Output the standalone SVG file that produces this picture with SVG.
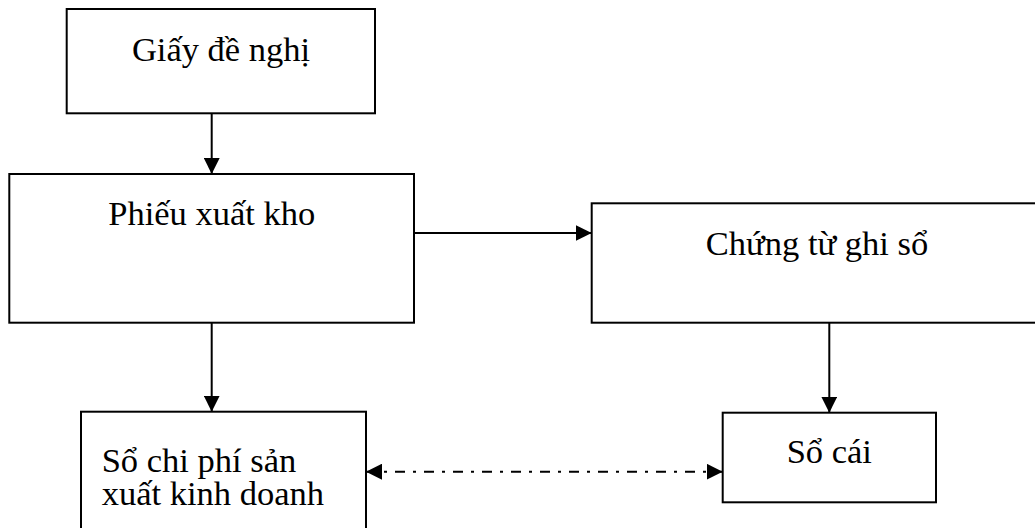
<svg xmlns="http://www.w3.org/2000/svg" width="1035" height="528" viewBox="0 0 1035 528">
  <style>
    .box { fill: #ffffff; stroke: #000000; stroke-width: 2; }
    .label { font-family: "Liberation Serif", "DejaVu Serif", serif; font-size: 34.5px; fill: #000000; }
    .mid { text-anchor: middle; }
    .flow { stroke: #000000; stroke-width: 2; fill: none; }
    .dashdot { stroke-dasharray: 10 8 3 8; }
  </style>
  <defs>
    <marker id="head" viewBox="0 0 16 16" refX="16" refY="8" markerWidth="16" markerHeight="16" markerUnits="userSpaceOnUse" orient="auto-start-reverse">
      <path d="M0,0 L16,8 L0,16 Z" fill="#000000"/>
    </marker>
  </defs>
  <rect width="1035" height="528" fill="#ffffff"/>

  <g id="connectors">
    <line class="flow" x1="211.7" y1="113.3" x2="211.7" y2="174" marker-end="url(#head)"/>
    <line class="flow" x1="414" y1="233" x2="591.7" y2="233" marker-end="url(#head)"/>
    <line class="flow" x1="211.7" y1="322.7" x2="211.7" y2="411.7" marker-end="url(#head)"/>
    <line class="flow" x1="829.3" y1="322.7" x2="829.3" y2="412.7" marker-end="url(#head)"/>
    <line class="flow dashdot" x1="366" y1="471.7" x2="722.7" y2="471.7" marker-start="url(#head)" marker-end="url(#head)"/>
  </g>

  <g id="giay-de-nghi">
    <rect class="box" x="66.7" y="9" width="308.3" height="104.3"/>
    <text class="label mid" x="221" y="61">Giấy đề nghị</text>
  </g>

  <g id="phieu-xuat-kho">
    <rect class="box" x="9.3" y="174" width="404.7" height="148.7"/>
    <text class="label mid" x="211.7" y="225">Phiếu xuất kho</text>
  </g>

  <g id="chung-tu-ghi-so">
    <rect class="box" x="591.7" y="203.3" width="450" height="119.4"/>
    <text class="label mid" x="817" y="254.5">Chứng từ ghi sổ</text>
  </g>

  <g id="so-chi-phi">
    <rect class="box" x="81" y="411.7" width="285" height="130"/>
    <text class="label" x="101.7" y="471.7">Sổ chi phí sản</text>
    <text class="label" x="101.7" y="505">xuất kinh doanh</text>
  </g>

  <g id="so-cai">
    <rect class="box" x="722.7" y="412.7" width="213.3" height="89.6"/>
    <text class="label mid" x="829.3" y="463">Sổ cái</text>
  </g>
</svg>
